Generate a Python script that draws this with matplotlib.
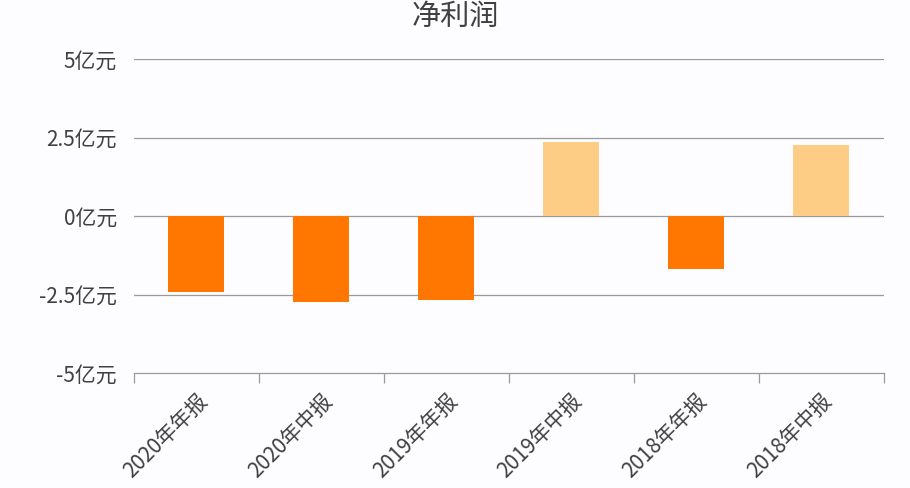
import matplotlib
matplotlib.use("Agg")
import matplotlib.pyplot as plt
import numpy as np

plt.rcParams['font.family'] = ['Noto Sans CJK SC', 'DejaVu Sans']
plt.rcParams['font.weight'] = 'light'

categories = ["2020年年报", "2020年中报", "2019年年报", "2019年中报", "2018年年报", "2018年中报"]
profit = [-2.43, -2.75, -2.68, 2.35, -1.68, 2.28]
yticks = [-5, -2.5, 0, 2.5, 5]
ytick_labels = ["-5亿元", "-2.5亿元", "0亿元", "2.5亿元", "5亿元"]

dark = "#FF7600"
light = "#FDCD86"
grid_c = "#9a9a9a"
text_c = "#404040"

fig = plt.figure(figsize=(9.1, 4.88), dpi=100, facecolor="#fdfcfe")
ax = fig.add_axes([0.147, 0.2357, 0.824, 0.643])
ax.set_facecolor("#fdfcfe")

x = np.arange(len(categories))
colors = [dark if v < 0 else light for v in profit]
ax.bar(x, profit, width=0.45, color=colors, zorder=3)

ax.set_xlim(-0.5, len(categories) - 0.5)
ax.set_ylim(-5, 5)
ax.set_yticks(yticks)
ax.set_yticklabels(ytick_labels, fontsize=15, color=text_c)
for y in yticks[1:]:
    ax.axhline(y, color=grid_c, linewidth=0.9, zorder=1)

ax.set_xticks(x)
ax.set_xticklabels(categories, rotation=45, ha="right", va="top",
                   rotation_mode="anchor", fontsize=15, color=text_c)
ax.set_xticks(np.arange(-0.5, len(categories), 1), minor=True)
ax.tick_params(axis="x", which="major", length=0, pad=12)
ax.tick_params(axis="x", which="minor", length=7, color=grid_c, width=0.9)
ax.tick_params(axis="y", length=0, pad=12)

for s in ["top", "right", "left"]:
    ax.spines[s].set_visible(False)
ax.spines["bottom"].set_color(grid_c)
ax.spines["bottom"].set_linewidth(0.9)

fig.text(0.5, 0.965, "净利润", ha="center", va="center", fontsize=21, color=text_c)

fig.savefig("out.png", dpi=100, facecolor=fig.get_facecolor())
